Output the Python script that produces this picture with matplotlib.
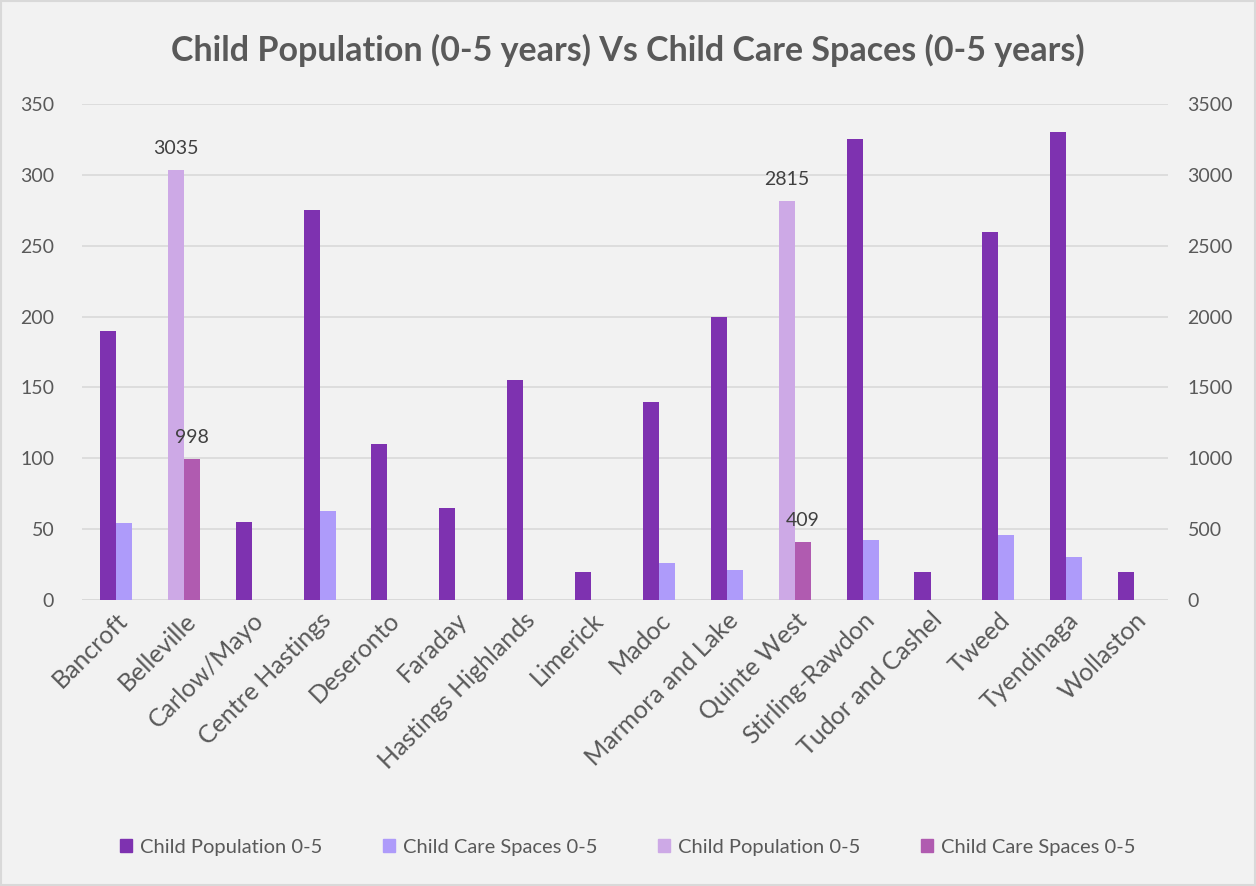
import numpy as np
import matplotlib.pyplot as plt
from matplotlib.patches import Patch, Rectangle

plt.rcParams['font.family'] = ['Lato', 'DejaVu Sans']

towns = ["Bancroft", "Belleville", "Carlow/Mayo", "Centre Hastings", "Deseronto",
         "Faraday", "Hastings Highlands", "Limerick", "Madoc", "Marmora and Lake",
         "Quinte West", "Stirling-Rawdon", "Tudor and Cashel", "Tweed", "Tyendinaga",
         "Wollaston"]
# primary axis
child_pop = [190, None, 55, 275, 110, 65, 155, 20, 140, 200, None, 325, 20, 260, 330, 20]
care_spaces = [54, None, None, 63, None, None, None, None, 26, 21, None, 42, None, 46, 30, None]
# secondary axis (large towns)
child_pop_big = [None, 3035, None, None, None, None, None, None, None, None, 2815, None, None, None, None, None]
care_spaces_big = [None, 998, None, None, None, None, None, None, None, None, 409, None, None, None, None, None]

c_pop = "#7E32B0"
c_care = "#AE9BFA"
c_pop2 = "#CDA9E6"
c_care2 = "#B05BB0"
grey = "#595959"

def arr(v):
    return np.array([np.nan if a is None else a for a in v], dtype=float)

fig = plt.figure(figsize=(12.56, 8.86), dpi=100, facecolor="#F2F2F2")
ax = fig.add_axes([0.0653, 0.3228, 0.8647, 0.5598])
ax2 = ax.twinx()
ax.set_facecolor("#F2F2F2")

x = np.arange(len(towns))
w = 0.236
ax.bar(x - w/2, arr(child_pop), w, color=c_pop, zorder=3)
ax.bar(x + w/2, arr(care_spaces), w, color=c_care, zorder=3)
b3 = ax2.bar(x - w/2, arr(child_pop_big), w, color=c_pop2, zorder=3)
b4 = ax2.bar(x + w/2, arr(care_spaces_big), w, color=c_care2, zorder=3)

for bars, vals in ((b3, child_pop_big), (b4, care_spaces_big)):
    for r, v in zip(bars, vals):
        if v is None:
            continue
        ax2.text(r.get_x() + r.get_width()/2, v + 90, str(v), ha="center", va="bottom",
                 fontsize=14, color="#404040")

ax.set_xlim(-0.5, len(towns) - 0.5)
ax.set_ylim(0, 350)
ax2.set_ylim(0, 3500)
ax.set_yticks(range(0, 351, 50))
ax2.set_yticks(range(0, 3501, 500))
ax.yaxis.grid(True, color="#D9D9D9", linewidth=1.2, zorder=0)
ax.set_axisbelow(True)
ax.set_xticks(x)
ax.set_xticklabels(towns, rotation=45, ha="right", rotation_mode="anchor", color=grey)
for a in (ax, ax2):
    for s in a.spines.values():
        s.set_visible(False)
    a.tick_params(length=0, labelsize=14, labelcolor=grey)
ax.tick_params(axis="y", pad=20)
ax2.tick_params(axis="y", pad=14)
ax.tick_params(axis="x", labelsize=18, pad=6)
ax.axhline(0, color="#D9D9D9", linewidth=1.2, zorder=1)

fig.suptitle("Child Population (0-5 years) Vs Child Care Spaces (0-5 years)", y=0.962,
             fontsize=24.5, fontweight="bold", color=grey)

handles = [Patch(color=c) for c in (c_pop, c_care, c_pop2, c_care2)]
labels = ["Child Population 0-5", "Child Care Spaces 0-5", "Child Population 0-5", "Child Care Spaces 0-5"]
fig.legend(handles, labels, loc="center", bbox_to_anchor=(0.5, 0.044), ncol=4, frameon=False,
           fontsize=14.5, labelcolor=grey, handlelength=0.6, handleheight=0.6,
           handletextpad=0.4, columnspacing=3.0)

fig.patches.append(Rectangle((0.001, 0.001), 0.998, 0.998, transform=fig.transFigure,
                             fill=False, edgecolor="#D9D9D9", linewidth=1.5))

fig.savefig("out.png", dpi=100, facecolor=fig.get_facecolor())
